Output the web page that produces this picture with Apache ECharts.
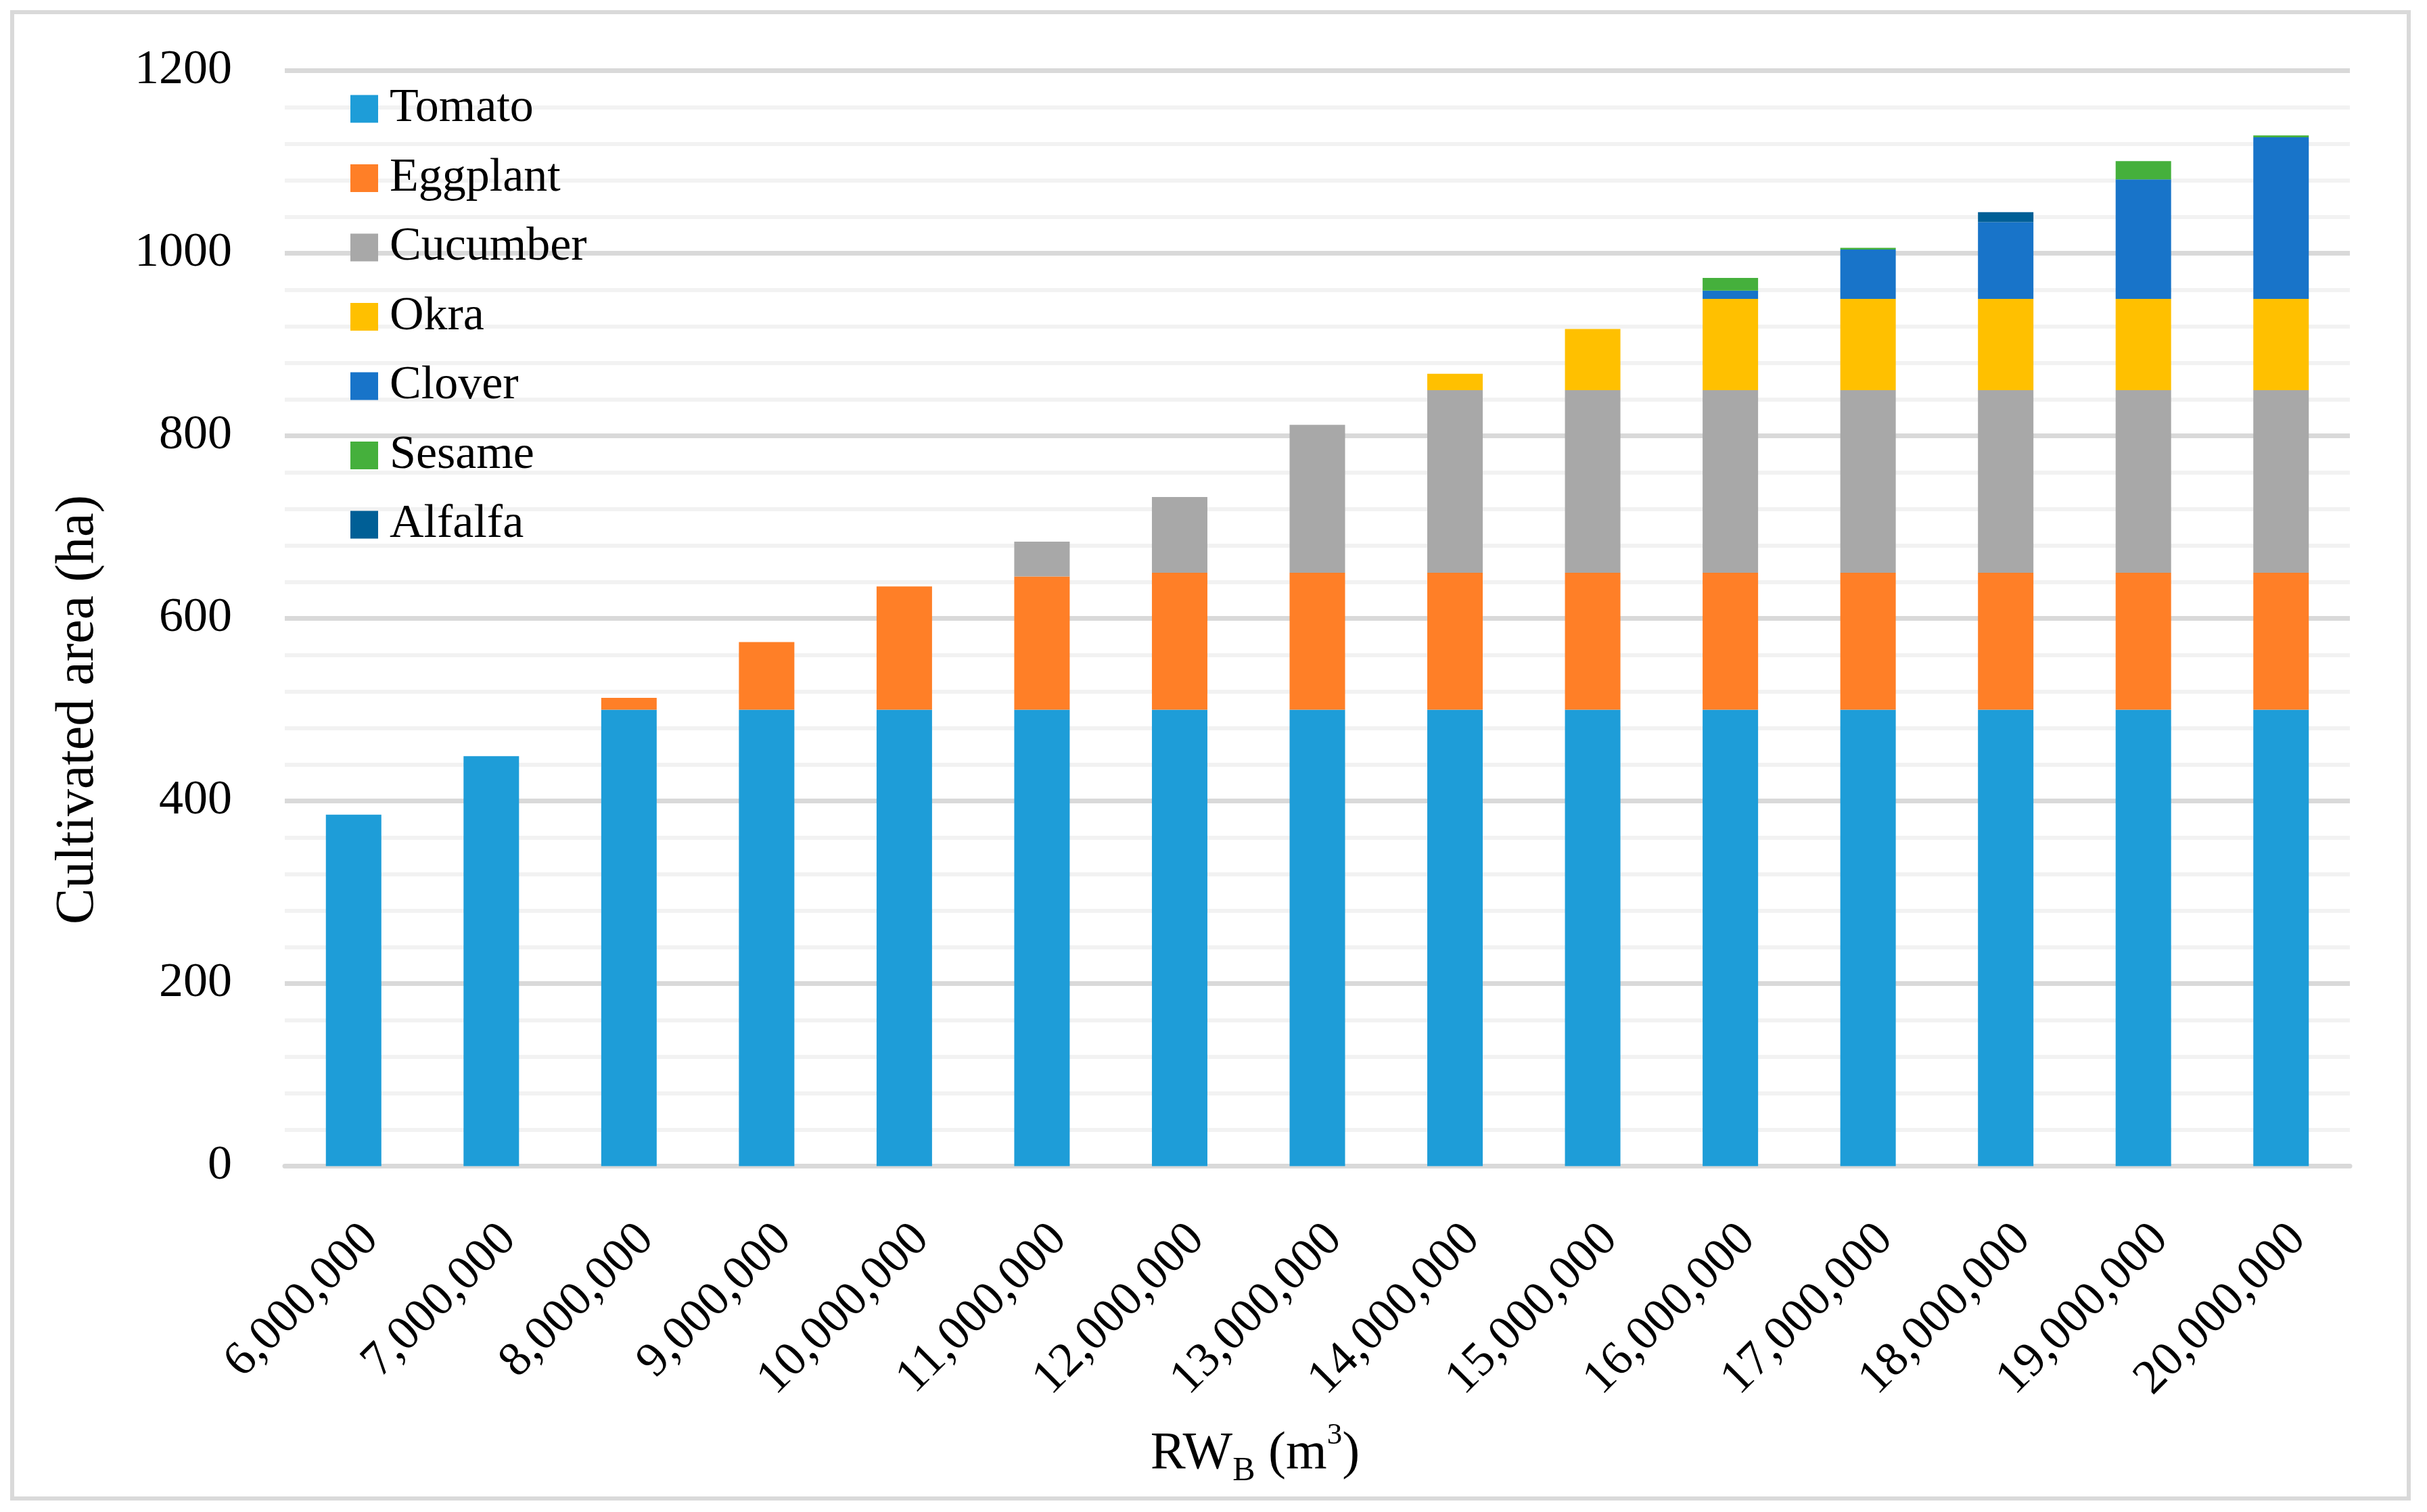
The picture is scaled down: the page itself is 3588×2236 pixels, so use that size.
<!DOCTYPE html>
<html>
<head>
<meta charset="utf-8">
<script src="https://cdn.jsdelivr.net/npm/echarts@6/dist/echarts.min.js"></script>
<style>
html,body{margin:0;padding:0;background:#ffffff;}
#chart{width:3588px;height:2236px;}
</style>
</head>
<body>
<div id="chart"></div>
<script>
// ---- data ----
const categories = ['6,000,000','7,000,000','8,000,000','9,000,000','10,000,000','11,000,000','12,000,000','13,000,000','14,000,000','15,000,000','16,000,000','17,000,000','18,000,000','19,000,000','20,000,000'];
const seriesNames = ['Tomato','Eggplant','Cucumber','Okra','Clover','Sesame','Alfalfa'];
const tomato   = [385,449,500,500,500,500,500,500,500,500,500,500,500,500,500];
const eggplant = [0,0,13,74,135,146,150,150,150,150,150,150,150,150,150];
const cucumber = [0,0,0,0,0,38,83,162,200,200,200,200,200,200,200];
const okra     = [0,0,0,0,0,0,0,0,18,67,100,100,100,100,100];
const clover   = [0,0,0,0,0,0,0,0,0,0,9,54,84,131,177];
const sesame   = [0,0,0,0,0,0,0,0,0,0,14,2,0,20,2];
const alfalfa  = [0,0,0,0,0,0,0,0,0,0,0,0,11,0,0];
const yMin = 0, yMax = 1200, yStep = 200;

const colors = ['#1e9dd8','#ff7f27','#a8a8a8','#ffc000','#1874c9','#45b03c','#005f96'];
const values = [tomato, eggplant, cucumber, okra, clover, sesame, alfalfa];
const FONT = '"Liberation Serif", "DejaVu Serif", serif';

const chart = echarts.init(document.getElementById('chart'), null, {renderer:'canvas'});
const option = {
  backgroundColor: '#ffffff',
  animation: false,
  color: colors,
  graphic: [{
    type: 'rect', silent: true, z: -1,
    shape: {x: 18, y: 18, width: 3543, height: 2198},
    style: {fill: 'none', stroke: '#d9d9d9', lineWidth: 6}
  }],
  grid: {left: 421, right: 114, top: 104.5, bottom: 511.5, containLabel: false},
  legend: {
    orient: 'vertical', left: 513, top: 121,
    itemWidth: 41, itemHeight: 41, itemGap: 32.5,
    icon: 'rect',
    data: seriesNames,
    textStyle: {fontFamily: FONT, fontSize: 70, lineHeight: 70, color: '#000', padding: [0,0,0,12]}
  },
  xAxis: {
    type: 'category',
    data: categories,
    axisLine: {show: true, lineStyle: {color: '#d9d9d9', width: 7}},
    axisTick: {show: false},
    axisLabel: {
      rotate: 45, interval: 0, margin: 72,
      fontFamily: FONT, fontSize: 72, color: '#000',
      align: 'right', verticalAlign: 'top'
    },
    name: 'RW{sub|B} (m{sup|3})',
    nameLocation: 'middle',
    nameGap: 376,
    nameTextStyle: {
      fontFamily: FONT, fontSize: 78, color: '#000', lineHeight: 100,
      padding: [0, 184, 0, 0],
      rich: {
        sub: {fontFamily: FONT, fontSize: 50, lineHeight: 50, verticalAlign: 'bottom', color: '#000'},
        sup: {fontFamily: FONT, fontSize: 45, lineHeight: 80, verticalAlign: 'top', color: '#000'}
      }
    }
  },
  yAxis: {
    type: 'value',
    min: yMin, max: yMax, interval: yStep,
    axisLine: {show: false},
    axisTick: {show: false},
    axisLabel: {fontFamily: FONT, fontSize: 72, color: '#000', margin: 78, formatter: (v) => String(v)},
    splitLine: {show: true, lineStyle: {color: '#d9d9d9', width: 7}},
    minorTick: {show: false, splitNumber: 5},
    minorSplitLine: {show: true, lineStyle: {color: '#f2f2f2', width: 6}},
    name: 'Cultivated area (ha)',
    nameLocation: 'middle',
    nameGap: 265,
    nameRotate: 90,
    nameTextStyle: {fontFamily: FONT, fontSize: 80, color: '#000', padding: [0, 270, 0, 0]}
  },
  series: seriesNames.map((n, i) => ({
    name: n,
    type: 'bar',
    stack: 'total',
    barWidth: 82,
    data: values[i],
    itemStyle: {color: colors[i]},
    emphasis: {disabled: true}
  }))
};
chart.setOption(option);
</script>
</body>
</html>
